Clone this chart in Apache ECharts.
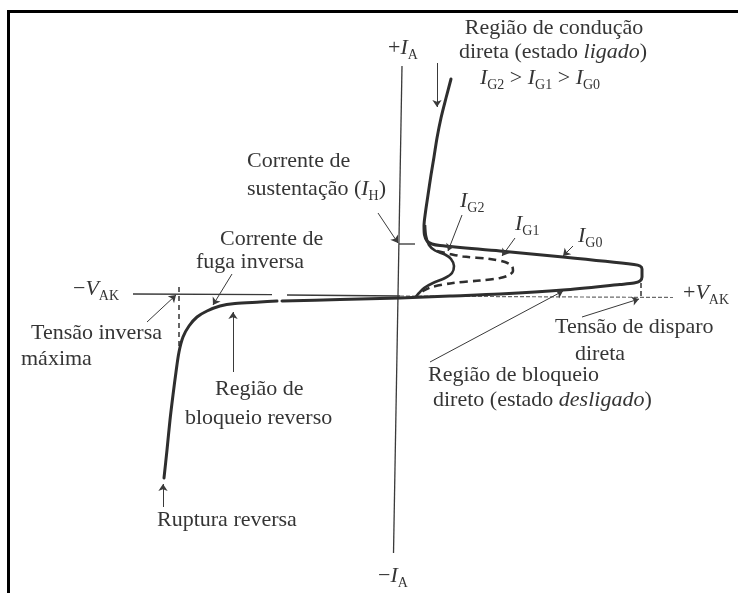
<!DOCTYPE html>
<html>
<head>
<meta charset="utf-8">
<script src="https://cdn.jsdelivr.net/npm/echarts@6/dist/echarts.min.js"></script>
<style>
  html, body { margin: 0; padding: 0; background: #fff; }
  #chart { width: 738px; height: 593px; }
</style>
</head>
<body>
<div id="chart"></div>
<script>
// SCR (thyristor) static characteristic: anode current I_A against anode–cathode voltage V_AK.
// Both axes use arbitrary units; the origin is where the two axes cross.

// Reverse branch of the I_G0 curve: from reverse breakdown up to the leakage plateau.
const igZeroReverse = [
  [-236, -181], [-233, -153], [-230, -123], [-227, -98], [-224, -75], [-221, -55],
  [-217, -40], [-211, -29], [-203, -20], [-193, -14], [-180, -9], [-165, -6.5],
  [-140, -5], [-123, -4]
];
// Forward branch of the I_G0 curve: blocking, breakover, negative-resistance return and conduction.
const igZeroForward = [
  [-118, -4], [-60, -2.5], [0, -1], [50, 1], [100, 3], [163, 7], [220, 12.5],
  [234, 14], [240, 16], [242, 20], [242, 28], [240, 31], [234, 32.5], [163, 40],
  [100, 46], [40, 51.5], [32, 53], [27, 56], [24.5, 62], [24, 71], [25.5, 85],
  [28, 102], [31, 122], [34, 140], [37, 159], [41, 179], [46, 199], [51, 218]
];
// Gate current I_G1 (dashed loop).
const igOne = [
  [37, 46], [50, 43], [63, 40.5], [90, 38], [105, 35], [112, 31], [113, 26],
  [109, 22], [100, 19], [80, 16.5], [53, 14], [32, 10], [23, 6], [19, 2]
];
// Gate current I_G2 (smallest forward loop).
const igTwo = [
  [25, 72], [26, 61], [29, 52], [35, 46.5], [45, 42.5], [51, 38], [54, 31],
  [52, 24], [45, 19], [33, 14], [24, 9], [19, 4], [16, 0.5]
];

// Axes of the diagram.
const axisCurrent = [[2, 231], [-6.5, -256]];
const axisVoltageLeft = [[-267, 3], [-128, 2.3], null, [-113, 2], [0, 1]];
const axisVoltageRight = [[0, 1], [273, -0.5]];

// Reference marks: peak reverse voltage, forward breakover voltage and holding current.
const reverseMaxMark = [[-221, 10], [-221, -52]];
const breakoverMark = [[241, 14], [241, -2]];
const holdingMark = [[-1, 53], [15, 53]];

// Callout arrows: [from, to].
const pointers = [
  [[37, 234], [37, 190]],      // região de condução
  [[-22, 84], [-2, 54]],       // corrente de sustentação
  [[62, 82], [48, 46]],        // I_G2
  [[115, 59], [102, 41]],      // I_G1
  [[173, 51], [163, 41]],      // I_G0
  [[-168, 23], [-187, -8]],    // corrente de fuga inversa
  [[-253, -25], [-224, 2]],    // tensão inversa máxima
  [[-167, -75], [-167, -15]],  // região de bloqueio reverso
  [[-237, -210], [-237, -187]],// ruptura reversa
  [[30, -65], [163, 6]],       // região de bloqueio direto
  [[182, -20], [239, -2]]      // tensão de disparo direta
];

const FONT = '"Liberation Serif", "Times New Roman", serif';
const INK = '#353535';

const rich = {
  i: { fontFamily: FONT, fontSize: 22, fontStyle: 'italic' },
  s: { fontFamily: FONT, fontSize: 14, padding: [15, 0, 0, 0] },
  it: { fontFamily: FONT, fontSize: 22, fontStyle: 'italic' }
};

// Annotation texts: [text, x, y, align]
const notes = [
  ['Região de condução', 554, 28, 'center'],
  ['direta (estado {it|ligado})', 553, 52, 'center'],
  ['{i|I}{s|G2} > {i|I}{s|G1} > {i|I}{s|G0}', 540, 78, 'center'],
  ['+{i|I}{s|A}', 388, 48, 'left'],
  ['Corrente de', 247, 161, 'left'],
  ['sustentação ({i|I}{s|H})', 247, 189, 'left'],
  ['{i|I}{s|G2}', 460, 201, 'left'],
  ['{i|I}{s|G1}', 515, 224, 'left'],
  ['{i|I}{s|G0}', 578, 236, 'left'],
  ['Corrente de', 220, 239, 'left'],
  ['fuga inversa', 196, 262, 'left'],
  ['\u2212{i|V}{s|AK}', 73, 289, 'left'],
  ['+{i|V}{s|AK}', 683, 293, 'left'],
  ['Tensão inversa', 31, 333, 'left'],
  ['máxima', 21, 359, 'left'],
  ['Tensão de disparo', 555, 327, 'left'],
  ['direta', 575, 354, 'left'],
  ['Região de bloqueio', 428, 375, 'left'],
  ['direto (estado {it|desligado})', 433, 400, 'left'],
  ['Região de', 215, 389, 'left'],
  ['bloqueio reverso', 185, 418, 'left'],
  ['Ruptura reversa', 157, 520, 'left'],
  ['\u2212{i|I}{s|A}', 378, 576, 'left']
];

const curveStyle = { color: '#2e2e2e', width: 3, cap: 'round', join: 'round' };
const thinStyle = { color: '#3a3a3a', width: 1.3 };

function lineSeries(name, data, lineStyle, smooth) {
  return {
    name: name,
    type: 'line',
    data: data,
    showSymbol: false,
    symbol: 'none',
    smooth: smooth || false,
    connectNulls: false,
    lineStyle: lineStyle,
    silent: true,
    z: 3
  };
}

const chart = echarts.init(document.getElementById('chart'), null, { renderer: 'canvas' });

chart.setOption({
  animation: false,
  backgroundColor: '#ffffff',
  grid: { left: 0, right: 0, top: 0, bottom: 0 },
  xAxis: { type: 'value', min: -400, max: 338, show: false },
  yAxis: { type: 'value', min: -296, max: 297, show: false },
  series: [
    lineSeries('eixo I', axisCurrent, thinStyle),
    lineSeries('eixo V (−)', axisVoltageLeft, thinStyle),
    lineSeries('eixo V (+)', axisVoltageRight, { color: '#6a6a6a', width: 1.2, type: [4, 2] }),
    lineSeries('tensão inversa máxima', reverseMaxMark, { color: '#333', width: 1.5, type: [5, 4] }),
    lineSeries('tensão de disparo', breakoverMark, { color: '#333', width: 1.5, type: [5, 3] }),
    lineSeries('I_H', holdingMark, { color: '#333', width: 1.3 }),
    lineSeries('I_G0 reverso', igZeroReverse, curveStyle, 0.3),
    lineSeries('I_G0 direto', igZeroForward, curveStyle, 0.3),
    lineSeries('I_G1', igOne, { color: '#2e2e2e', width: 2.6, type: [8, 5] }, 0.3),
    lineSeries('I_G2', igTwo, { color: '#2e2e2e', width: 2.6 }, 0.3),
    {
      name: 'setas',
      type: 'lines',
      coordinateSystem: 'cartesian2d',
      symbol: ['none', 'arrow'],
      symbolSize: 7,
      lineStyle: { color: '#3a3a3a', width: 1, opacity: 1 },
      silent: true,
      z: 4,
      data: pointers.map(p => ({ coords: p }))
    }
  ],
  graphic: [
    {
      type: 'rect',
      shape: { x: 8.5, y: 11.5, width: 900, height: 800 },
      style: { fill: 'none', stroke: '#000', lineWidth: 3 },
      silent: true,
      z: 10
    }
  ].concat(notes.map(n => ({
    type: 'text',
    x: n[1],
    y: n[2],
    silent: true,
    z: 10,
    style: {
      text: n[0],
      fill: INK,
      fontFamily: FONT,
      fontSize: 22,
      align: n[3],
      textAlign: n[3],
      verticalAlign: 'middle',
      textVerticalAlign: 'middle',
      rich: rich
    }
  })))
});
</script>
</body>
</html>
